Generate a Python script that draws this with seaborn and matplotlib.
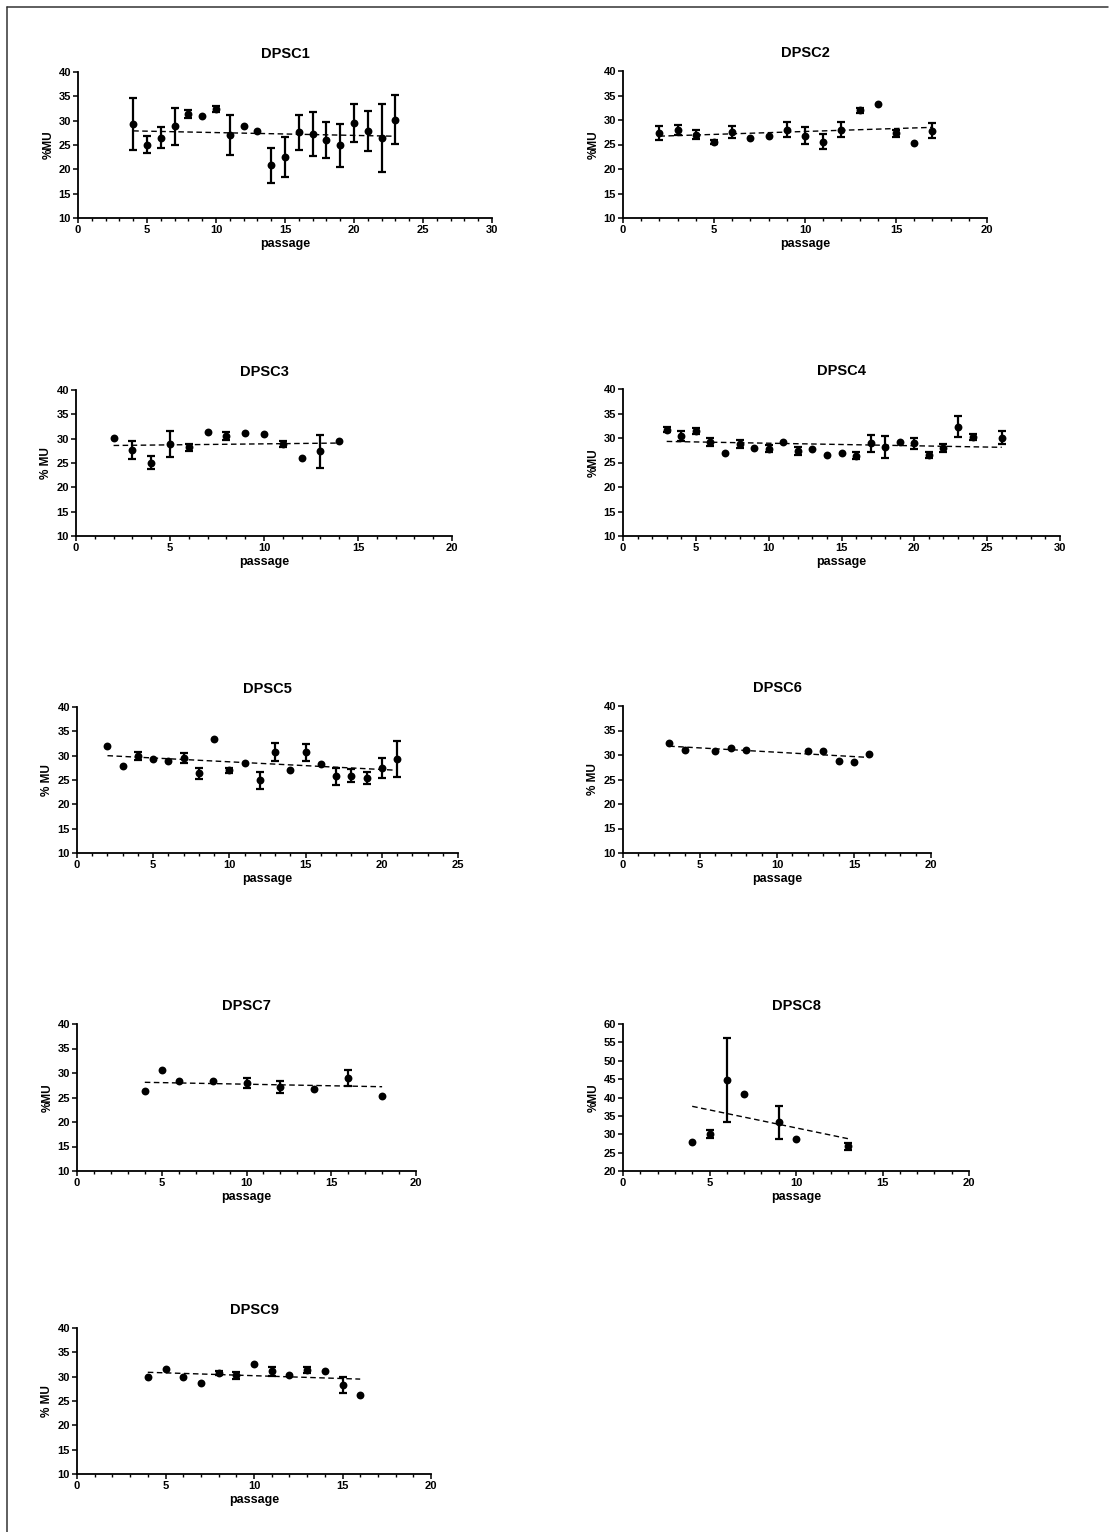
import numpy as np
import pandas as pd
import matplotlib
matplotlib.use("Agg")
import matplotlib.pyplot as plt
from matplotlib.ticker import MultipleLocator
from matplotlib.lines import Line2D
import seaborn as sns

# ---------------------------------------------------------------------------
# %MU per passage for each DPSC line (mean, SD; SD 0 = single measurement)
# ---------------------------------------------------------------------------
dpsc1_passage = [4, 5, 6, 7, 8, 9, 10, 11, 12, 13, 14, 15, 16, 17, 18, 19, 20, 21, 22, 23]
dpsc1_mean = [29.3, 25.1, 26.5, 28.9, 31.3, 31.0, 32.4, 27.1, 29.0, 27.8,
              20.8, 22.5, 27.6, 27.3, 26.0, 24.9, 29.6, 27.9, 26.5, 30.2]
dpsc1_sd = [5.3, 1.8, 2.2, 3.8, 0.8, 0.0, 0.7, 4.1, 0.0, 0.0,
            3.6, 4.1, 3.6, 4.5, 3.7, 4.4, 3.9, 4.1, 7.0, 5.0]
dpsc1_trend = [27.9, 26.8]

dpsc2_passage = [2, 3, 4, 5, 6, 7, 8, 9, 10, 11, 12, 13, 14, 15, 16, 17]
dpsc2_mean = [27.3, 28.0, 27.0, 25.6, 27.5, 26.4, 26.8, 28.0, 26.8, 25.6, 28.0, 32.0, 33.3, 27.3, 25.3, 27.8]
dpsc2_sd = [1.45, 1.0, 0.95, 0.4, 1.2, 0.0, 0.0, 1.5, 1.75, 1.6, 1.5, 0.5, 0.0, 0.75, 0.0, 1.55]
dpsc2_trend = [26.7, 28.5]

dpsc3_passage = [2, 3, 4, 5, 6, 7, 8, 9, 10, 11, 12, 13, 14]
dpsc3_mean = [30.2, 27.7, 25.1, 28.9, 28.2, 31.3, 30.5, 31.1, 31.0, 28.9, 26.1, 27.4, 29.6]
dpsc3_sd = [0.0, 1.85, 1.3, 2.6, 0.65, 0.0, 0.85, 0.0, 0.0, 0.7, 0.0, 3.35, 0.0]
dpsc3_trend = [28.6, 29.1]

dpsc4_passage = [3, 4, 5, 6, 7, 8, 9, 10, 11, 12, 13, 14, 15, 16, 17, 18, 19, 20, 21, 22, 23, 24, 26]
dpsc4_mean = [31.7, 30.4, 31.4, 29.1, 27.0, 28.8, 28.0, 27.8, 29.1, 27.3, 27.8, 26.6,
              27.0, 26.4, 28.9, 28.2, 29.1, 28.9, 26.5, 28.0, 32.3, 30.2, 30.1]
dpsc4_sd = [0.55, 1.05, 0.65, 0.8, 0.0, 0.8, 0.0, 0.7, 0.0, 0.8, 0.0, 0.0,
            0.0, 0.65, 1.75, 2.25, 0.0, 1.05, 0.6, 0.8, 2.1, 0.6, 1.35]
dpsc4_trend = [29.3, 28.1]

dpsc5_passage = [2, 3, 4, 5, 6, 7, 8, 9, 10, 11, 12, 13, 14, 15, 16, 17, 18, 19, 20, 21]
dpsc5_mean = [32.0, 27.9, 30.0, 29.4, 28.9, 29.5, 26.4, 33.5, 27.0, 28.5,
              24.9, 30.8, 27.0, 30.7, 28.2, 25.8, 25.9, 25.4, 27.5, 29.3]
dpsc5_sd = [0.0, 0.0, 0.8, 0.0, 0.0, 0.95, 1.15, 0.0, 0.55, 0.0,
            1.7, 1.9, 0.0, 1.7, 0.0, 1.75, 1.35, 1.2, 2.1, 3.65]
dpsc5_trend = [30.0, 27.0]

dpsc6_passage = [3, 4, 6, 7, 8, 12, 13, 14, 15, 16]
dpsc6_mean = [32.5, 31.1, 30.9, 31.5, 31.0, 30.8, 30.9, 28.7, 28.5, 30.2]
dpsc6_sd = [0.0, 0.0, 0.0, 0.0, 0.0, 0.0, 0.0, 0.0, 0.0, 0.0]
dpsc6_trend = [31.8, 29.5]

dpsc7_passage = [4, 5, 6, 8, 10, 12, 14, 16, 18]
dpsc7_mean = [26.4, 30.7, 28.3, 28.3, 27.9, 27.1, 26.8, 28.9, 25.3]
dpsc7_sd = [0.0, 0.0, 0.0, 0.0, 1.05, 1.2, 0.0, 1.65, 0.0]
dpsc7_trend = [28.1, 27.2]

dpsc8_passage = [4, 5, 6, 7, 9, 10, 13]
dpsc8_mean = [27.8, 30.0, 44.8, 40.9, 33.2, 28.7, 26.7]
dpsc8_sd = [0.0, 1.15, 11.4, 0.0, 4.45, 0.0, 1.0]
dpsc8_trend = [37.6, 28.8]

dpsc9_passage = [4, 5, 6, 7, 8, 9, 10, 11, 12, 13, 14, 15, 16]
dpsc9_mean = [30.0, 31.5, 30.0, 28.7, 30.8, 30.3, 32.7, 31.1, 30.4, 31.3, 31.1, 28.3, 26.2]
dpsc9_sd = [0.0, 0.0, 0.0, 0.0, 0.4, 0.75, 0.0, 0.9, 0.0, 0.6, 0.0, 1.65, 0.0]
dpsc9_trend = [30.9, 29.5]

titles = ["DPSC1", "DPSC2", "DPSC3", "DPSC4", "DPSC5", "DPSC6", "DPSC7", "DPSC8", "DPSC9"]
y_labels = ["%MU", "%MU", "% MU", "%MU", "% MU", "% MU", "%MU", "%MU", "% MU"]
x_max = [30, 20, 20, 30, 25, 20, 20, 20, 20]
y_range = [(10, 40)] * 7 + [(20, 60), (10, 40)]

series = [
    (dpsc1_passage, dpsc1_mean, dpsc1_sd, dpsc1_trend),
    (dpsc2_passage, dpsc2_mean, dpsc2_sd, dpsc2_trend),
    (dpsc3_passage, dpsc3_mean, dpsc3_sd, dpsc3_trend),
    (dpsc4_passage, dpsc4_mean, dpsc4_sd, dpsc4_trend),
    (dpsc5_passage, dpsc5_mean, dpsc5_sd, dpsc5_trend),
    (dpsc6_passage, dpsc6_mean, dpsc6_sd, dpsc6_trend),
    (dpsc7_passage, dpsc7_mean, dpsc7_sd, dpsc7_trend),
    (dpsc8_passage, dpsc8_mean, dpsc8_sd, dpsc8_trend),
    (dpsc9_passage, dpsc9_mean, dpsc9_sd, dpsc9_trend),
]

# panel boxes in pixels: left, top, right, bottom
W, H = 1111, 1532
boxes = [
    (78, 72, 492, 218), (623, 71, 987, 218),
    (76, 390, 452, 536), (623, 389, 1060, 536),
    (77, 707, 458, 853), (623, 706, 931, 853),
    (77, 1024, 416, 1171), (623, 1024, 969, 1171),
    (77, 1328, 431, 1474),
]

sns.set_theme(style="ticks")
plt.rcParams["font.family"] = ["Liberation Sans", "DejaVu Sans"]
plt.rcParams["font.weight"] = "bold"
plt.rcParams["axes.labelweight"] = "bold"
plt.rcParams["axes.titleweight"] = "bold"

fig = plt.figure(figsize=(W / 100, H / 100), dpi=100)
fig.patch.set_facecolor("white")

for (passage, mean, sd, trend), title, ylab, xm, (y0, y1), (l, t, r, b) in zip(
        series, titles, y_labels, x_max, y_range, boxes):
    ax = fig.add_axes([l / W, 1 - b / H, (r - l) / W, (b - t) / H])
    ax.set_facecolor("none")

    df = pd.DataFrame({"passage": passage, "mu": mean, "sd": sd})
    bars = df[df["sd"] > 0]
    if len(bars):
        ax.errorbar(bars["passage"], bars["mu"], yerr=bars["sd"], fmt="none",
                    ecolor="black", elinewidth=1.6, capsize=3.0, capthick=1.6,
                    zorder=2, clip_on=False)
    sns.scatterplot(data=df, x="passage", y="mu", ax=ax, color="black",
                    s=32, linewidth=0, zorder=3, clip_on=False, legend=False)

    fit = pd.DataFrame({"passage": [passage[0], passage[-1]], "mu": trend})
    sns.lineplot(data=fit, x="passage", y="mu", ax=ax, color="black",
                 linewidth=1.0, linestyle=(0, (4, 2.5)), zorder=1)

    ax.set_xlim(0, xm)
    ax.set_ylim(y0, y1)
    ax.xaxis.set_major_locator(MultipleLocator(5))
    ax.xaxis.set_minor_locator(MultipleLocator(1))
    ax.yaxis.set_major_locator(MultipleLocator(5))
    sns.despine(ax=ax)
    for side in ("left", "bottom"):
        ax.spines[side].set_linewidth(1.3)
        ax.spines[side].set_color("black")
    ax.tick_params(which="major", length=3.5, width=1.1, labelsize=8,
                   pad=1.5, color="black", labelcolor="black")
    ax.tick_params(axis="x", which="minor", length=2.2, width=1.0, color="black")
    for lab in ax.get_xticklabels() + ax.get_yticklabels():
        lab.set_fontweight("bold")

    ax.set_title(title, fontsize=10.5, pad=10, color="black")
    ax.set_xlabel("passage", fontsize=9, labelpad=2, color="black")
    ax.set_ylabel(ylab, fontsize=8.5, labelpad=3, color="black")

# page frame along the top and left edges
fig.add_artist(Line2D([6.5 / W, 1108 / W], [1 - 6.5 / H, 1 - 6.5 / H],
                      transform=fig.transFigure, color="#333333", linewidth=1.1))
fig.add_artist(Line2D([6.5 / W, 6.5 / W], [1 - 6.5 / H, 0],
                      transform=fig.transFigure, color="#333333", linewidth=1.1))

fig.savefig("out.png", dpi=100, facecolor="white")
